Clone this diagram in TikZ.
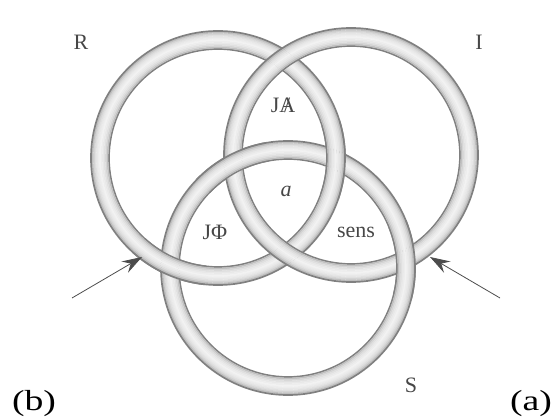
\documentclass[tikz,border=0pt]{standalone}
\usepackage{fontspec}
\setmainfont{Liberation Serif}
\usetikzlibrary{arrows.meta,calc}

\newcommand\barredA{\ooalign{A\cr\hidewidth/\hidewidth\cr}}
% one piece of tube: centre, start angle, end angle
\newcommand\tubearc[3]{%
  \foreach \o/\k in {-9/50, -7.5/25, -6/17, -4.5/12, -3/9, -1.5/7, 0/5,
                     1.5/7, 3/9, 4.5/12, 6/17, 7.5/25, 9/50}
    \draw[band, black!\k] ($(#1)+(#2:\rad+\o)$) arc[start angle=#2, end angle=#3, radius=\rad+\o];}

\begin{document}
\begin{tikzpicture}[
  x=1pt, y=-1pt,
  band/.style={line width=1.7pt},
  ringlabel/.style={text=black!72, font=\fontsize{22}{22}\selectfont, inner sep=0pt},
  panel/.style={font=\fontsize{29}{29}\selectfont, inner sep=0pt},
  pointer/.style={-{Stealth[length=20pt, width=13pt, inset=7pt]}, line width=0.8pt, black!70},
]
  \useasboundingbox (0,0) rectangle (551,419);

  % ring centres
  \coordinate (cR) at (218,158);
  \coordinate (cI) at (351,155);
  \coordinate (cS) at (288,268);
  \def\rad{118}

  % the three rings, I lies over R
  \foreach \c in {cR, cS, cI}
    {\tubearc{\c}{0}{360}}

  % R passes over S
  \foreach \a in {114, 1}
    {\tubearc{cR}{\a-18}{\a+18}}

  % S passes over I
  \foreach \a in {-4, -118}
    {\tubearc{cS}{\a-18}{\a+18}}

  % labels
  \node[ringlabel] (lR) at (81,42) {R};
  \node[ringlabel] (lI) at (479,42) {I};
  \node[ringlabel] (lS) at (411,385) {S};
  \node[ringlabel] (jA) at (283,105) {J\barredA};
  \node[ringlabel] (objA) at (286,191) {\textit{a}};
  \node[ringlabel] (jPhi) at (215,232) {JΦ};
  \node[ringlabel] (sens) at (356,232) {sens};

  \node[panel] (pb) at (34,404) {\scalebox{1.3}[1]{(b)}};
  \node[panel] (pa) at (531,404) {\scalebox{1.3}[1]{(a)}};

  % arrows
  \coordinate (tailL) at (72,298);
  \coordinate (tipL) at (142,257);
  \coordinate (tailR) at (500,298);
  \coordinate (tipR) at (430,257);
  \draw[pointer] (tailL) -- (tipL);
  \draw[pointer] (tailR) -- (tipR);
\end{tikzpicture}
\end{document}
